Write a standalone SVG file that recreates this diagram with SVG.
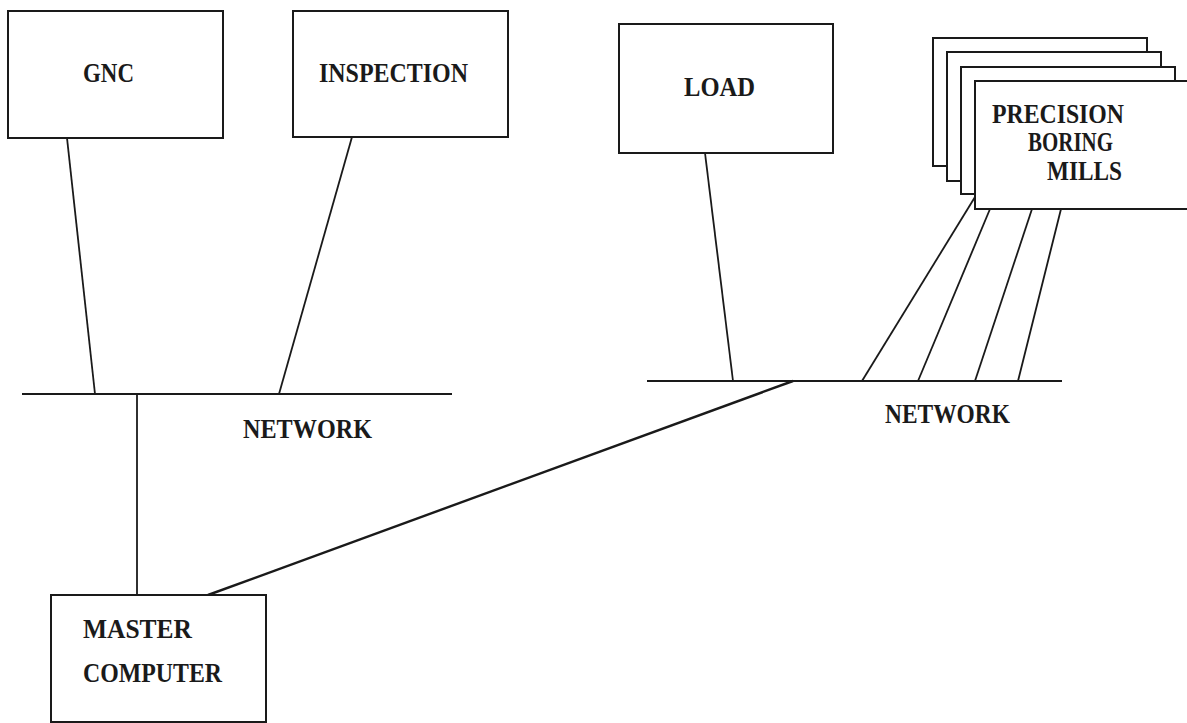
<svg xmlns="http://www.w3.org/2000/svg" width="1187" height="723" viewBox="0 0 1187 723">
<style>
.box{fill:#fff;stroke:#1a1a1a;stroke-width:2}
.lbl{font-family:"Liberation Serif","DejaVu Serif",serif;font-size:28px;font-weight:bold;fill:#1a1a1a}
#connectors line{stroke:#1a1a1a;stroke-width:1.8;fill:none}
</style>
<rect width="1187" height="723" fill="#fff"/>
<g id="connectors">
<line x1="67" y1="138" x2="95" y2="394"/>
<line x1="352" y1="137" x2="279" y2="394"/>
<line x1="22" y1="394" x2="452" y2="394"/>
<line x1="137" y1="394" x2="137" y2="595"/>
<line x1="793" y1="381" x2="208" y2="595" style="stroke-width:2.4"/>
<line x1="647" y1="381" x2="1062" y2="381"/>
<line x1="705" y1="153" x2="733" y2="381"/>
<line x1="975" y1="197" x2="862" y2="381"/>
<line x1="990" y1="209" x2="918" y2="381"/>
<line x1="1032" y1="209" x2="975" y2="381"/>
<line x1="1061" y1="209" x2="1018" y2="381"/>
</g>
<g id="gnc">
<rect class="box" x="8" y="11" width="215" height="127"/>
<text class="lbl" x="83" y="82" textLength="51" lengthAdjust="spacingAndGlyphs">GNC</text>
</g>
<g id="inspection">
<rect class="box" x="293" y="11" width="215" height="126"/>
<text class="lbl" x="319" y="82" textLength="149" lengthAdjust="spacingAndGlyphs">INSPECTION</text>
</g>
<g id="load">
<rect class="box" x="619" y="24" width="214" height="129"/>
<text class="lbl" x="684" y="96" textLength="71" lengthAdjust="spacingAndGlyphs">LOAD</text>
</g>
<g id="precision-boring-mills">
<rect class="box" x="933" y="38" width="214" height="128"/>
<rect class="box" x="947" y="52" width="214" height="129"/>
<rect class="box" x="961" y="67" width="214" height="127"/>
<rect class="box" x="975" y="81" width="214" height="128"/>
<text class="lbl" x="992" y="123" textLength="132" lengthAdjust="spacingAndGlyphs">PRECISION</text>
<text class="lbl" x="1028" y="151" textLength="85" lengthAdjust="spacingAndGlyphs">BORING</text>
<text class="lbl" x="1047" y="180" textLength="75" lengthAdjust="spacingAndGlyphs">MILLS</text>
</g>
<g id="master-computer">
<rect class="box" x="51" y="595" width="215" height="127"/>
<text class="lbl" x="83" y="638" textLength="109" lengthAdjust="spacingAndGlyphs">MASTER</text>
<text class="lbl" x="83" y="682" textLength="139" lengthAdjust="spacingAndGlyphs">COMPUTER</text>
</g>
<g id="network-left">
<text class="lbl" x="243" y="438" textLength="129" lengthAdjust="spacingAndGlyphs">NETWORK</text>
</g>
<g id="network-right">
<text class="lbl" x="885" y="423" textLength="125" lengthAdjust="spacingAndGlyphs">NETWORK</text>
</g>
</svg>
